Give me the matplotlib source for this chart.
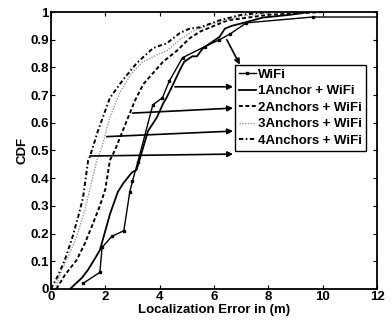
import matplotlib
matplotlib.use("Agg")
import matplotlib.pyplot as plt

plt.rcParams['font.family'] = ['Liberation Sans', 'DejaVu Sans']
plt.rcParams['font.weight'] = 'bold'

# CDF curves
wifi_x = [1.18, 1.8, 1.88, 2.24, 2.68, 2.9, 3.0, 3.2, 3.75, 4.1, 4.35, 4.84, 5.66, 6.2, 6.58, 7.19, 9.63, 12.0]
wifi_y = [0.02, 0.06, 0.15, 0.19, 0.21, 0.35, 0.39, 0.46, 0.665, 0.69, 0.75, 0.835, 0.875, 0.90, 0.92, 0.961, 0.982, 0.982]

a1_x = [0.7, 1.14, 1.37, 1.62, 1.8, 2.0, 2.17, 2.46, 2.65, 2.97, 3.15, 3.57, 3.9, 4.13, 4.25, 4.5, 4.74, 4.9, 5.2, 5.37, 5.6, 6.2, 6.4, 6.65, 7.05, 7.8, 8.8, 9.5]
a1_y = [0.0, 0.04, 0.07, 0.11, 0.14, 0.21, 0.27, 0.35, 0.38, 0.42, 0.43, 0.57, 0.62, 0.67, 0.69, 0.74, 0.79, 0.82, 0.84, 0.84, 0.87, 0.91, 0.94, 0.95, 0.96, 0.98, 0.99, 1.0]

a2_x = [0.2, 0.51, 0.95, 1.25, 1.5, 1.8, 2.0, 2.17, 2.35, 2.8, 3.09, 3.4, 3.76, 4.12, 4.63, 5.1, 5.5, 6.5, 8.0, 10.0]
a2_y = [0.0, 0.05, 0.105, 0.165, 0.225, 0.30, 0.36, 0.465, 0.50, 0.61, 0.68, 0.74, 0.78, 0.82, 0.86, 0.905, 0.93, 0.97, 0.99, 1.0]

a3_x = [0.15, 0.4, 0.63, 0.95, 1.25, 1.43, 1.69, 1.87, 2.17, 2.54, 2.97, 3.38, 3.9, 4.26, 4.74, 5.2, 6.0, 7.0, 8.5]
a3_y = [0.0, 0.07, 0.115, 0.19, 0.285, 0.36, 0.465, 0.51, 0.62, 0.71, 0.78, 0.82, 0.845, 0.86, 0.90, 0.93, 0.96, 0.985, 1.0]

a4_x = [0.0, 0.27, 0.51, 0.77, 1.0, 1.18, 1.37, 1.43, 1.74, 2.17, 2.65, 3.15, 3.76, 4.26, 4.74, 5.1, 5.5, 6.2, 7.0, 8.0]
a4_y = [0.0, 0.05, 0.105, 0.18, 0.26, 0.33, 0.465, 0.477, 0.574, 0.69, 0.755, 0.815, 0.87, 0.887, 0.924, 0.94, 0.945, 0.97, 0.99, 1.0]

labels = ['WiFi', '1Anchor + WiFi', '2Anchors + WiFi', '3Anchors + WiFi', '4Anchors + WiFi']
# arrow tails on the curves, heads at the legend border
arrow_from = [(6.47, 0.90), (4.56, 0.73), (3.0, 0.635), (2.05, 0.55), (1.43, 0.48)]
arrow_to = [(6.95, 0.81), (6.7, 0.73), (6.7, 0.653), (6.7, 0.57), (6.7, 0.487)]

fig = plt.figure(figsize=(3.92, 3.25), dpi=100)
ax = fig.add_axes([0.130, 0.111, 0.832, 0.852])

ax.plot(wifi_x, wifi_y, '-', color='black', lw=1.0, marker='s', ms=1.8,
        markevery=list(range(len(wifi_x) - 1)), label=labels[0])
ax.plot(a1_x, a1_y, '-', color='black', lw=1.3, label=labels[1])
ax.plot(a2_x, a2_y, color='black', lw=1.4, ls=(0, (2, 1.3)), label=labels[2])
ax.plot(a3_x, a3_y, color='#999999', lw=1.0, ls=(0, (1, 1)), label=labels[3])
ax.plot(a4_x, a4_y, color='black', lw=1.4, ls=(0, (2.2, 1.3, 0.8, 1.3)), label=labels[4])

for (x0, y0), (x1, y1) in zip(arrow_from, arrow_to):
    ax.annotate('', xy=(x1, y1), xytext=(x0, y0),
                arrowprops=dict(arrowstyle='-|>', color='black', lw=1.2,
                                mutation_scale=8, shrinkA=0, shrinkB=0))

leg = ax.legend(loc='upper left', bbox_to_anchor=(0.563, 0.81), fontsize=9.5,
                handlelength=1.3, handletextpad=0.15, borderpad=0.3,
                labelspacing=0.32, borderaxespad=0, fancybox=False,
                framealpha=1)
leg.get_frame().set_edgecolor('black')
leg.get_frame().set_linewidth(1.0)

ax.set_xlim(0, 12)
ax.set_ylim(0, 1)
ax.set_xticks(range(0, 13, 2))
ax.set_yticks([i / 10 for i in range(11)])
ax.set_yticklabels(['0', '0.1', '0.2', '0.3', '0.4', '0.5', '0.6', '0.7', '0.8', '0.9', '1'])
ax.tick_params(direction='in', top=True, right=True, labelsize=9.5, length=3, width=0.8, pad=1.5)
for s in ax.spines.values():
    s.set_linewidth(1.3)
ax.set_xlabel('Localization Error in (m)', fontsize=9.5, fontweight='bold', labelpad=0.5)
ax.set_ylabel('CDF', fontsize=9.5, fontweight='bold', labelpad=1)

fig.savefig('out.png', dpi=100)
